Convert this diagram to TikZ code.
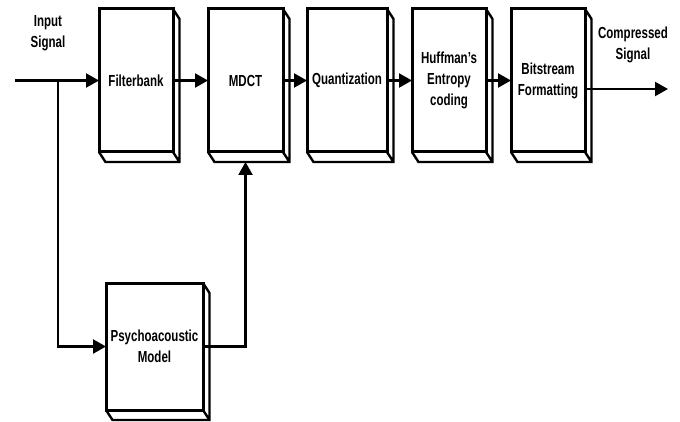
\documentclass[tikz,border=0pt]{standalone}
\usepackage{fontspec}
\newfontfamily\blockfont{Liberation Sans}[FakeStretch=0.72]
\usetikzlibrary{arrows.meta, calc}
\tikzset{
  block/.style={rectangle, draw, fill=white, line width=3pt,
    minimum width=74pt, minimum height=143pt, inner sep=0pt, outer sep=0pt,
    align=center, font=\blockfont\bfseries\fontsize{16}{21}\selectfont},
  side/.style={line width=2.4pt, line join=miter},
  sig/.style={align=center, font=\blockfont\bfseries\fontsize{16}{21}\selectfont},
  arrow/.style={-{Triangle[length=13pt,width=14pt]}, line width=2.2pt},
  line/.style={line width=2.2pt}
}
\begin{document}
\begin{tikzpicture}[x=1pt, y=-1pt]
  \useasboundingbox (0,0) rectangle (680,422);
  % blocks
  \node[block] (filt) at (136,80.5) {Filterbank};
  \node[block, minimum width=75pt] (mdct) at (245.5,80.5) {MDCT};
  \node[block, minimum width=80pt] (quant) at (347,80.5) {Quantization};
  \node[block] (huff) at (449,80.5) {Huffman’s\\Entropy\\coding};
  \node[block] (bits) at (548,80.5) {Bitstream\\Formatting};
  \node[block, minimum width=97pt, minimum height=127pt] (psy) at (154.5,346.5) {Psychoacoustic\\Model};
  % 3d faces
  \foreach \b in {filt,mdct,quant,huff,bits,psy}
    \draw[side] (\b.north east) -- ++(6.5,10) -- ($(\b.south east)+(6.5,10)$)
      -- ($(\b.south west)+(6.5,10)$) -- (\b.south west)
      (\b.south east) -- ++(6.5,10);
  % signal labels
  \node[sig] (insig) at (48,33) {Input\\Signal};
  \node[sig] (outsig) at (633,45) {Compressed\\Signal};
  \coordinate (inp) at (15,80.5);
  \coordinate (split) at (58,80.5);
  \coordinate (outp) at (668,89);
  \coordinate (mdctin) at ($(mdct.south)+(0,10)$);
  % connections
  \draw[arrow] (inp) -- (filt.west);
  \draw[arrow] (split) |- (psy.west);
  \draw[arrow] (filt.east) -- (mdct.west);
  \draw[arrow] (mdct.east) -- (quant.west);
  \draw[arrow] (quant.east) -- (huff.west);
  \draw[arrow] (huff.east) -- (bits.west);
  \draw[arrow] (bits.east |- outp) -- (outp);
  \draw[arrow] (psy.east) -| (mdctin);
\end{tikzpicture}
\end{document}
